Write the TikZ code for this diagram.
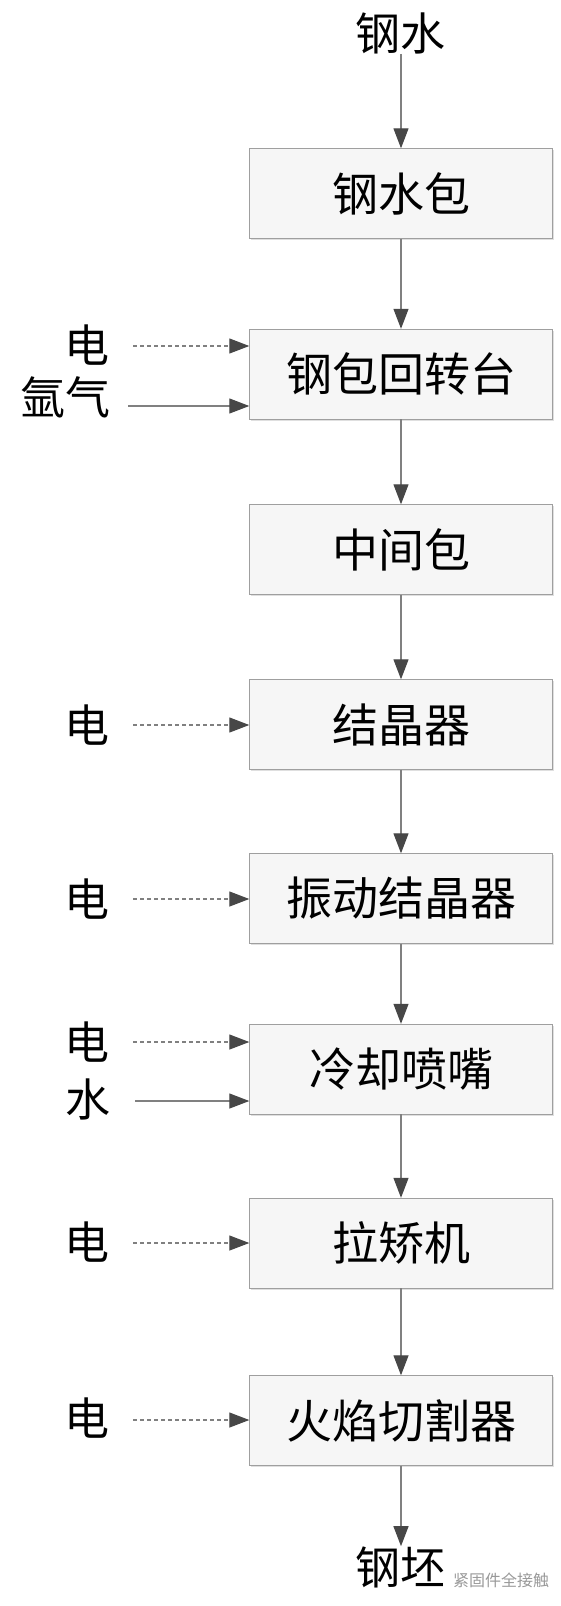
\documentclass[tikz,border=0pt]{standalone}
\usepackage{fontspec}
\newfontfamily\cjk{Noto Sans CJK SC}
\usetikzlibrary{arrows.meta,positioning,shadows}
\tikzset{
  stage/.style={draw=gray!75, fill=gray!7, rectangle, minimum width=303pt, minimum height=90pt, inner sep=0pt, font=\cjk\fontsize{46}{46}\selectfont, drop shadow={shadow xshift=1.5pt, shadow yshift=-1.5pt, opacity=0.25}},
  lbl/.style={font=\cjk\fontsize{45}{45}\selectfont, inner sep=0pt},
  arr/.style={draw=gray, line width=1.2pt, -{Triangle[length=20pt, width=15pt, color=black!72]}},
  darr/.style={arr, dash pattern=on 4pt off 3pt},
  wmark/.style={font=\cjk\fontsize{16}{16}\selectfont, text=gray!80, inner sep=0pt},
}
\begin{document}
\begin{tikzpicture}[x=1pt,y=-1pt]
\useasboundingbox (0,0) rectangle (560,1606);
% process chain
\node[lbl] (melt) at (400.5,33) {钢水};
\node[stage] (s1) at (401,193.5) {钢水包};
\node[stage] (s2) at (401,374) {钢包回转台};
\node[stage] (s3) at (401,549.5) {中间包};
\node[stage] (s4) at (401,724.5) {结晶器};
\node[stage] (s5) at (401,898.5) {振动结晶器};
\node[stage] (s6) at (401,1069) {冷却喷嘴};
\node[stage] (s7) at (401,1243) {拉矫机};
\node[stage] (s8) at (401,1420.5) {火焰切割器};
\node[lbl] (billet) at (400,1567) {钢坯};
\draw[arr] (s1.north |- melt.south) -- (s1.north);
\draw[arr] (s1.south) -- (s2.north);
\draw[arr] (s2.south) -- (s3.north);
\draw[arr] (s3.south) -- (s4.north);
\draw[arr] (s4.south) -- (s5.north);
\draw[arr] (s5.south) -- (s6.north);
\draw[arr] (s6.south) -- (s7.north);
\draw[arr] (s7.south) -- (s8.north);
\draw[arr] (s8.south) -- (s8.south |- billet.north);
% side inputs
\node[lbl, anchor=east] (e2) at (110,345) {电};
\node[lbl, anchor=east] (ar2) at (111,397) {氩气};
\node[lbl, anchor=east] (e4) at (110,725) {电};
\node[lbl, anchor=east] (e5) at (110,899) {电};
\node[lbl, anchor=east] (e6) at (110,1042) {电};
\node[lbl, anchor=east] (w6) at (111,1099) {水};
\node[lbl, anchor=east] (e7) at (110,1242) {电};
\node[lbl, anchor=east] (e8) at (110,1418) {电};
\coordinate (i2a) at (133,346);
\coordinate (i2b) at (128,406);
\coordinate (i4) at (133,725);
\coordinate (i5) at (133,899);
\coordinate (i6a) at (133,1042);
\coordinate (i6b) at (135,1101);
\coordinate (i7) at (133,1243);
\coordinate (i8) at (133,1420);
\draw[darr] (i2a) -- (s2.west |- i2a);
\draw[arr] (i2b) -- (s2.west |- i2b);
\draw[darr] (i4) -- (s4.west |- i4);
\draw[darr] (i5) -- (s5.west |- i5);
\draw[darr] (i6a) -- (s6.west |- i6a);
\draw[arr] (i6b) -- (s6.west |- i6b);
\draw[darr] (i7) -- (s7.west |- i7);
\draw[darr] (i8) -- (s8.west |- i8);
\node[wmark] (wm) at (501,1580) {紧固件全接触};
\end{tikzpicture}
\end{document}
